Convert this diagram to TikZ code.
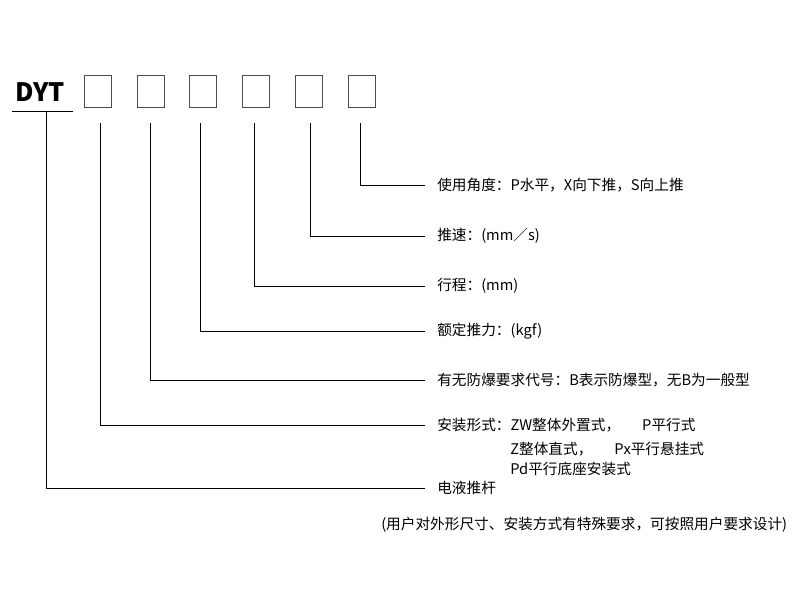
\documentclass[tikz,border=0pt]{standalone}
\usepackage{fontspec}
\setmainfont{Noto Sans CJK SC}
\usetikzlibrary{positioning}
\begin{document}
\begin{tikzpicture}
    [x=0.75pt,y=-0.75pt,
     slot/.style={draw=black!70,line width=0.6pt,minimum width=20.25pt,minimum height=24pt,
                  inner sep=0,anchor=north west},
     lead/.style={line width=0.6pt},
     lbl/.style={anchor=west,font=\fontsize{11}{13}\selectfont,inner sep=0}]
    \useasboundingbox (0,0) rectangle (810,608);
    \node[font=\fontsize{19}{21}\selectfont\bfseries,inner sep=0] (dyt) at (40,92) {DYT};
    \coordinate (ul) at (12,111);
    \coordinate (ur) at (73,111);
    \draw[lead] (ul) -- (ur);
    \foreach \n/\x in {1/84,2/137,3/189,4/242,5/295,6/348}
      \node[slot] (s\n) at (\x,75) {};
    % labels
    \node[lbl] (t6) at (437,185) {使用角度：P水平，X向下推，S向上推};
    \node[lbl] (t5) at (437,236) {推速：(mm／s)};
    \node[lbl] (t4) at (437,286) {行程：(mm)};
    \node[lbl] (t3) at (437,331) {额定推力：(kgf)};
    \node[lbl] (t2) at (437,380) {有无防爆要求代号：B表示防爆型，无B为一般型};
    \node[lbl] (t1) at (437,425) {安装形式：ZW整体外置式，\hspace{1.5em}P平行式};
    \node[lbl] (t1b) at (510,449) {Z整体直式，\hspace{1.5em}Px平行悬挂式};
    \node[lbl] (t1c) at (510,469) {Pd平行底座安装式};
    \node[lbl] (t0) at (437,488) {电液推杆};
    \node[lbl] (note) at (381,525) {(用户对外形尺寸、安装方式有特殊要求，可按照用户要求设计)};
    % leaders
    \foreach \n/\x in {6/360,5/310,4/254,3/200,2/150,1/100}
      \draw[lead] (\x,123) |- ([xshift=-9pt]t\n.west);
    \draw[lead] (46,111) |- ([xshift=-9pt]t0.west);
\end{tikzpicture}
\end{document}
